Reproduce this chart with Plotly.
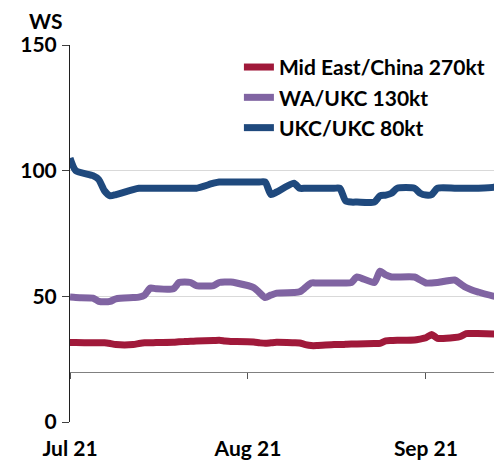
import pandas as pd
import plotly.graph_objects as go

# Weekday dates, Jul 1 - Sep 14 2021
dates = pd.bdate_range("2021-07-01", "2021-09-14")

mid_east_china = [
    31.6, 31.6, 31.5, 31.5, 31.5, 31.2, 30.8, 30.8, 31.2, 31.5,
    31.5, 31.6, 31.7, 31.9, 32.0, 32.1, 32.2, 32.4, 32.5, 32.2,
    32.0, 32.0, 31.8, 31.5, 31.3, 31.5, 31.7, 31.5, 31.4, 30.8,
    30.4, 30.4, 30.8, 30.8, 30.9, 31.0, 31.0, 31.2, 31.3, 32.3,
    32.4, 32.5, 32.6, 33.0, 33.5, 34.8, 33.3, 33.6, 34.0, 35.2,
    35.2, 35.2, 35.0, 35.0,
]
wa_ukc = [
    49.7, 49.5, 49.3, 48.0, 47.8, 48.0, 49.0, 49.5, 49.7, 50.5,
    53.3, 53.0, 53.0, 55.5, 55.7, 55.5, 54.3, 54.3, 55.5, 55.7,
    55.7, 55.3, 53.5, 51.5, 49.5, 50.5, 51.3, 51.5, 51.8, 53.5,
    55.3, 55.3, 55.3, 55.3, 55.3, 55.5, 57.7, 55.5, 60.0, 58.5,
    57.7, 57.7, 57.7, 56.5, 55.3, 55.3, 55.5, 56.5, 55.0, 53.5,
    52.5, 51.8, 50.0, 50.3,
]
ukc_ukc = [
    105.0, 100.0, 98.0, 96.5, 92.0, 90.0, 90.5, 92.5, 93.0, 93.0,
    93.0, 93.0, 93.0, 93.0, 93.0, 93.0, 93.0, 95.0, 95.5, 95.5,
    95.5, 95.5, 95.5, 95.5, 95.5, 90.5, 91.5, 95.0, 93.0, 93.0,
    93.0, 93.0, 93.0, 93.0, 88.0, 87.5, 87.5, 87.5, 90.0, 90.3,
    91.0, 93.0, 93.0, 91.0, 90.3, 90.5, 93.0, 93.0, 93.0, 93.0,
    93.0, 93.0, 93.5, 95.0,
]

series = [
    ("Mid East/China 270kt", mid_east_china, "#A0193A"),
    ("WA/UKC 130kt", wa_ukc, "#8064A2"),
    ("UKC/UKC 80kt", ukc_ukc, "#1F497D"),
]

month_ticks = ["2021-07-01", "2021-08-01", "2021-09-01"]
month_labels = ["Jul 21", "Aug 21", "Sep 21"]
x_range = ["2021-07-01", "2021-09-14 06:00"]
x_axis_crossing = 20

font = "Lato, 'DejaVu Sans', sans-serif"

fig = go.Figure()
for i, (name, vals, color) in enumerate(series):
    fig.add_trace(
        go.Scatter(
            x=dates,
            y=vals,
            name=name,
            mode="lines",
            line=dict(color=color, width=7, shape="spline", smoothing=0.6),
            legendgroup=f"g{i}",
        )
    )

# empty trace so the second (crossing) x axis gets drawn
fig.add_trace(
    go.Scatter(
        x=[dates[0]], y=[None], xaxis="x2", mode="lines",
        showlegend=False, hoverinfo="skip",
    )
)

# page body has an 8px margin, so the figure is 8px smaller each way
fig.update_layout(
    width=494,
    height=456,
    margin=dict(l=62, r=0, t=37, b=42),
    paper_bgcolor="white",
    plot_bgcolor="white",
    font=dict(family=font, size=21, color="#000000"),
    showlegend=True,
    legend=dict(
        x=0.391, y=0.995, xanchor="left", yanchor="top",
        bgcolor="rgba(0,0,0,0)",
        font=dict(family=font, size=21, color="#000000", weight="bold"),
        tracegroupgap=0,
        itemwidth=30,
    ),
    xaxis=dict(
        type="date",
        range=x_range,
        tickvals=month_ticks,
        ticktext=month_labels,
        ticks="outside",
        ticklen=8,
        tickcolor="rgba(0,0,0,0)",
        showgrid=False,
        showline=False,
        zeroline=False,
        tickfont=dict(family=font, size=21, weight="bold"),
    ),
    xaxis2=dict(
        type="date",
        range=x_range,
        overlaying="x",
        anchor="free",
        position=x_axis_crossing / 150,
        side="bottom",
        tickvals=month_ticks,
        ticks="outside",
        ticklen=6,
        tickwidth=1,
        tickcolor="#555555",
        showticklabels=False,
        showline=True,
        linecolor="#808080",
        linewidth=1,
        showgrid=False,
        zeroline=False,
    ),
    yaxis=dict(
        range=[0, 150],
        tickvals=[0, 50, 100, 150],
        ticks="outside",
        ticklen=7,
        tickcolor="#404040",
        showline=True,
        linecolor="#202020",
        linewidth=1,
        showgrid=True,
        gridcolor="#D9D9D9",
        gridwidth=1,
        zeroline=False,
        ticklabelstandoff=1,
        tickfont=dict(family=font, size=21, weight="bold"),
    ),
    annotations=[
        dict(
            text="WS", xref="paper", yref="paper",
            x=-25 / 432, y=1 + 25 / 377, xanchor="center", yanchor="middle",
            showarrow=False,
            font=dict(family=font, size=21, weight="bold"),
        )
    ],
)

fig.write_html("out.html")
